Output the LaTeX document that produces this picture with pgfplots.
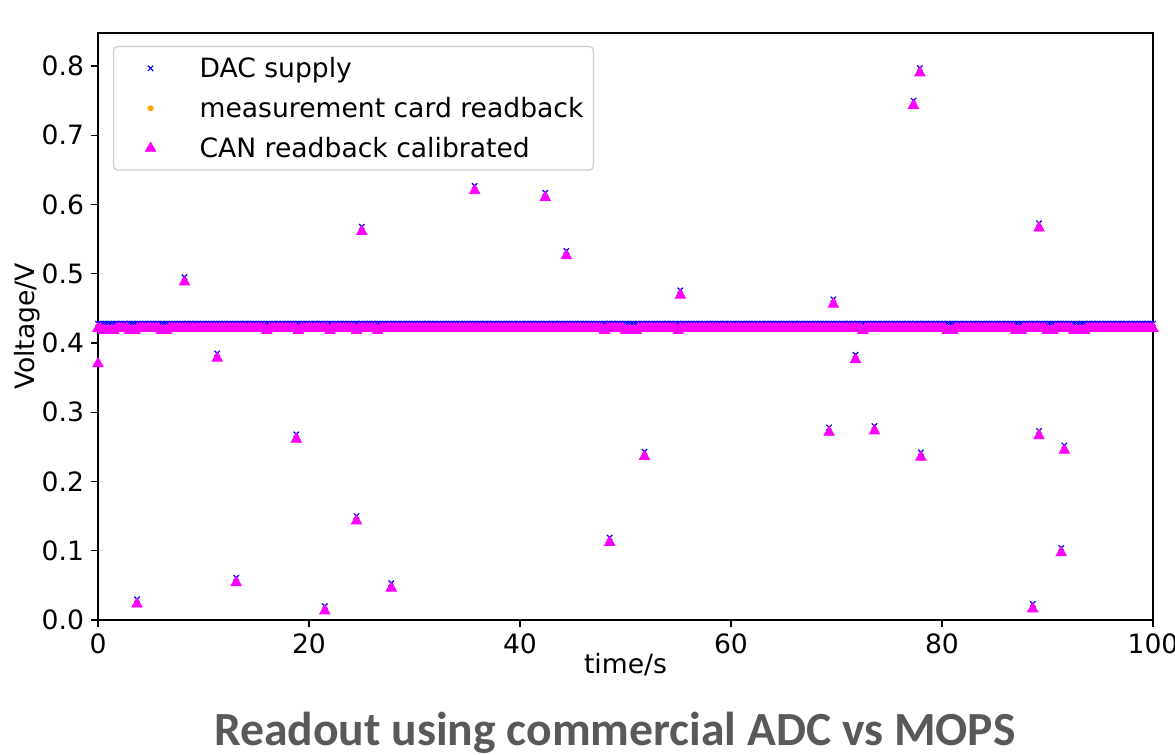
\documentclass[border=0pt]{standalone}
\usepackage{pgfplots}
\pgfplotsset{compat=1.18}
\usepackage{pgfplotstable}
\usepackage{fontspec}
\setmainfont{DejaVu Sans}
\newfontfamily\titlefont{Carlito}
\definecolor{dacblue}{RGB}{0,0,255}
\definecolor{measorange}{HTML}{FFA500}
\definecolor{canmag}{RGB}{255,0,255}
\definecolor{titlegray}{HTML}{595959}
\definecolor{legframe}{HTML}{CCCCCC}

% flat part: DAC at 0.43 V, readbacks just under it
\pgfplotstableread[row sep=\\]{
t dac meas can\\
0 0.428 0.422 0.421\\ 0.25 0.428 0.422 0.421\\ 0.5 0.428 0.422 0.418\\ 0.75 0.428 0.422 0.418\\
1 0.428 0.422 0.418\\ 1.25 0.428 0.422 0.418\\ 1.5 0.428 0.422 0.418\\ 1.75 0.428 0.422 0.421\\
2 0.428 0.422 0.421\\ 2.25 0.428 0.422 0.421\\ 2.5 0.428 0.422 0.421\\ 2.75 0.428 0.422 0.421\\
3 0.428 0.422 0.418\\ 3.25 0.428 0.422 0.418\\ 3.5 0.428 0.422 0.418\\ 3.75 0.428 0.422 0.421\\
4 0.428 0.422 0.421\\ 4.25 0.428 0.422 0.421\\ 4.5 0.428 0.422 0.421\\ 4.75 0.428 0.422 0.421\\
5 0.428 0.422 0.421\\ 5.25 0.428 0.422 0.421\\ 5.5 0.428 0.422 0.421\\ 5.75 0.428 0.422 0.421\\
6 0.428 0.422 0.418\\ 6.25 0.428 0.422 0.418\\ 6.5 0.428 0.422 0.418\\ 6.75 0.428 0.422 0.421\\
7 0.428 0.422 0.421\\ 7.25 0.428 0.422 0.421\\ 7.5 0.428 0.422 0.421\\ 7.75 0.428 0.422 0.421\\
8 0.428 0.422 0.421\\ 8.25 0.428 0.422 0.421\\ 8.5 0.428 0.422 0.421\\ 8.75 0.428 0.422 0.421\\
9 0.428 0.422 0.421\\ 9.25 0.428 0.422 0.421\\ 9.5 0.428 0.422 0.421\\ 9.75 0.428 0.422 0.421\\
10 0.428 0.422 0.421\\ 10.25 0.428 0.422 0.421\\ 10.5 0.428 0.422 0.421\\ 10.75 0.428 0.422 0.421\\
11 0.428 0.422 0.421\\ 11.25 0.428 0.422 0.421\\ 11.5 0.428 0.422 0.421\\ 11.75 0.428 0.422 0.421\\
12 0.428 0.422 0.421\\ 12.25 0.428 0.422 0.421\\ 12.5 0.428 0.422 0.421\\ 12.75 0.428 0.422 0.421\\
13 0.428 0.422 0.421\\ 13.25 0.428 0.422 0.421\\ 13.5 0.428 0.422 0.421\\ 13.75 0.428 0.422 0.421\\
14 0.428 0.422 0.421\\ 14.25 0.428 0.422 0.421\\ 14.5 0.428 0.422 0.421\\ 14.75 0.428 0.422 0.421\\
15 0.428 0.422 0.421\\ 15.25 0.428 0.422 0.421\\ 15.5 0.428 0.422 0.421\\ 15.75 0.428 0.422 0.421\\
16 0.428 0.422 0.418\\ 16.25 0.428 0.422 0.421\\ 16.5 0.428 0.422 0.421\\ 16.75 0.428 0.422 0.421\\
17 0.428 0.422 0.421\\ 17.25 0.428 0.422 0.421\\ 17.5 0.428 0.422 0.421\\ 17.75 0.428 0.422 0.421\\
18 0.428 0.422 0.421\\ 18.25 0.428 0.422 0.421\\ 18.5 0.428 0.422 0.421\\ 18.75 0.428 0.422 0.421\\
19 0.428 0.422 0.418\\ 19.25 0.428 0.422 0.421\\ 19.5 0.428 0.422 0.421\\ 19.75 0.428 0.422 0.421\\
20 0.428 0.422 0.421\\ 20.25 0.428 0.422 0.421\\ 20.5 0.428 0.422 0.421\\ 20.75 0.428 0.422 0.421\\
21 0.428 0.422 0.421\\ 21.25 0.428 0.422 0.421\\ 21.5 0.428 0.422 0.421\\ 21.75 0.428 0.422 0.421\\
22 0.428 0.422 0.418\\ 22.25 0.428 0.422 0.421\\ 22.5 0.428 0.422 0.421\\ 22.75 0.428 0.422 0.421\\
23 0.428 0.422 0.421\\ 23.25 0.428 0.422 0.421\\ 23.5 0.428 0.422 0.421\\ 23.75 0.428 0.422 0.421\\
24 0.428 0.422 0.421\\ 24.25 0.428 0.422 0.421\\ 24.5 0.428 0.422 0.418\\ 24.75 0.428 0.422 0.421\\
25 0.428 0.422 0.421\\ 25.25 0.428 0.422 0.421\\ 25.5 0.428 0.422 0.421\\ 25.75 0.428 0.422 0.421\\
26 0.428 0.422 0.421\\ 26.25 0.428 0.422 0.421\\ 26.5 0.428 0.422 0.418\\ 26.75 0.428 0.422 0.421\\
27 0.428 0.422 0.421\\ 27.25 0.428 0.422 0.421\\ 27.5 0.428 0.422 0.421\\ 27.75 0.428 0.422 0.421\\
28 0.428 0.422 0.421\\ 28.25 0.428 0.422 0.421\\ 28.5 0.428 0.422 0.421\\ 28.75 0.428 0.422 0.421\\
29 0.428 0.422 0.421\\ 29.25 0.428 0.422 0.421\\ 29.5 0.428 0.422 0.421\\ 29.75 0.428 0.422 0.421\\
30 0.428 0.422 0.421\\ 30.25 0.428 0.422 0.421\\ 30.5 0.428 0.422 0.421\\ 30.75 0.428 0.422 0.421\\
31 0.428 0.422 0.421\\ 31.25 0.428 0.422 0.421\\ 31.5 0.428 0.422 0.421\\ 31.75 0.428 0.422 0.421\\
32 0.428 0.422 0.421\\ 32.25 0.428 0.422 0.421\\ 32.5 0.428 0.422 0.421\\ 32.75 0.428 0.422 0.421\\
33 0.428 0.422 0.421\\ 33.25 0.428 0.422 0.421\\ 33.5 0.428 0.422 0.421\\ 33.75 0.428 0.422 0.421\\
34 0.428 0.422 0.421\\ 34.25 0.428 0.422 0.421\\ 34.5 0.428 0.422 0.421\\ 34.75 0.428 0.422 0.421\\
35 0.428 0.422 0.421\\ 35.25 0.428 0.422 0.421\\ 35.5 0.428 0.422 0.421\\ 35.75 0.428 0.422 0.421\\
36 0.428 0.422 0.421\\ 36.25 0.428 0.422 0.421\\ 36.5 0.428 0.422 0.421\\ 36.75 0.428 0.422 0.421\\
37 0.428 0.422 0.421\\ 37.25 0.428 0.422 0.421\\ 37.5 0.428 0.422 0.421\\ 37.75 0.428 0.422 0.421\\
38 0.428 0.422 0.421\\ 38.25 0.428 0.422 0.421\\ 38.5 0.428 0.422 0.421\\ 38.75 0.428 0.422 0.421\\
39 0.428 0.422 0.421\\ 39.25 0.428 0.422 0.421\\ 39.5 0.428 0.422 0.421\\ 39.75 0.428 0.422 0.421\\
40 0.428 0.422 0.421\\ 40.25 0.428 0.422 0.421\\ 40.5 0.428 0.422 0.421\\ 40.75 0.428 0.422 0.421\\
41 0.428 0.422 0.421\\ 41.25 0.428 0.422 0.421\\ 41.5 0.428 0.422 0.421\\ 41.75 0.428 0.422 0.421\\
42 0.428 0.422 0.421\\ 42.25 0.428 0.422 0.421\\ 42.5 0.428 0.422 0.421\\ 42.75 0.428 0.422 0.421\\
43 0.428 0.422 0.421\\ 43.25 0.428 0.422 0.421\\ 43.5 0.428 0.422 0.421\\ 43.75 0.428 0.422 0.421\\
44 0.428 0.422 0.421\\ 44.25 0.428 0.422 0.421\\ 44.5 0.428 0.422 0.421\\ 44.75 0.428 0.422 0.421\\
45 0.428 0.422 0.421\\ 45.25 0.428 0.422 0.421\\ 45.5 0.428 0.422 0.421\\ 45.75 0.428 0.422 0.421\\
46 0.428 0.422 0.421\\ 46.25 0.428 0.422 0.421\\ 46.5 0.428 0.422 0.421\\ 46.75 0.428 0.422 0.421\\
47 0.428 0.422 0.421\\ 47.25 0.428 0.422 0.421\\ 47.5 0.428 0.422 0.421\\ 47.75 0.428 0.422 0.421\\
48 0.428 0.422 0.418\\ 48.25 0.428 0.422 0.421\\ 48.5 0.428 0.422 0.421\\ 48.75 0.428 0.422 0.421\\
49 0.428 0.422 0.421\\ 49.25 0.428 0.422 0.421\\ 49.5 0.428 0.422 0.421\\ 49.75 0.428 0.422 0.421\\
50 0.428 0.422 0.418\\ 50.25 0.428 0.422 0.418\\ 50.5 0.428 0.422 0.418\\ 50.75 0.428 0.422 0.418\\
51 0.428 0.422 0.418\\ 51.25 0.428 0.422 0.421\\ 51.5 0.428 0.422 0.421\\ 51.75 0.428 0.422 0.421\\
52 0.428 0.422 0.421\\ 52.25 0.428 0.422 0.421\\ 52.5 0.428 0.422 0.421\\ 52.75 0.428 0.422 0.421\\
53 0.428 0.422 0.421\\ 53.25 0.428 0.422 0.421\\ 53.5 0.428 0.422 0.421\\ 53.75 0.428 0.422 0.421\\
54 0.428 0.422 0.421\\ 54.25 0.428 0.422 0.421\\ 54.5 0.428 0.422 0.421\\ 54.75 0.428 0.422 0.421\\
55 0.428 0.422 0.418\\ 55.25 0.428 0.422 0.421\\ 55.5 0.428 0.422 0.421\\ 55.75 0.428 0.422 0.421\\
56 0.428 0.422 0.421\\ 56.25 0.428 0.422 0.421\\ 56.5 0.428 0.422 0.421\\ 56.75 0.428 0.422 0.421\\
57 0.428 0.422 0.421\\ 57.25 0.428 0.422 0.421\\ 57.5 0.428 0.422 0.421\\ 57.75 0.428 0.422 0.421\\
58 0.428 0.422 0.421\\ 58.25 0.428 0.422 0.421\\ 58.5 0.428 0.422 0.421\\ 58.75 0.428 0.422 0.421\\
59 0.428 0.422 0.421\\ 59.25 0.428 0.422 0.421\\ 59.5 0.428 0.422 0.421\\ 59.75 0.428 0.422 0.421\\
60 0.428 0.422 0.421\\ 60.25 0.428 0.422 0.421\\ 60.5 0.428 0.422 0.421\\ 60.75 0.428 0.422 0.421\\
61 0.428 0.422 0.421\\ 61.25 0.428 0.422 0.421\\ 61.5 0.428 0.422 0.421\\ 61.75 0.428 0.422 0.421\\
62 0.428 0.422 0.421\\ 62.25 0.428 0.422 0.421\\ 62.5 0.428 0.422 0.421\\ 62.75 0.428 0.422 0.421\\
63 0.428 0.422 0.421\\ 63.25 0.428 0.422 0.421\\ 63.5 0.428 0.422 0.421\\ 63.75 0.428 0.422 0.421\\
64 0.428 0.422 0.421\\ 64.25 0.428 0.422 0.421\\ 64.5 0.428 0.422 0.421\\ 64.75 0.428 0.422 0.421\\
65 0.428 0.422 0.421\\ 65.25 0.428 0.422 0.421\\ 65.5 0.428 0.422 0.421\\ 65.75 0.428 0.422 0.421\\
66 0.428 0.422 0.421\\ 66.25 0.428 0.422 0.421\\ 66.5 0.428 0.422 0.421\\ 66.75 0.428 0.422 0.421\\
67 0.428 0.422 0.421\\ 67.25 0.428 0.422 0.421\\ 67.5 0.428 0.422 0.421\\ 67.75 0.428 0.422 0.421\\
68 0.428 0.422 0.421\\ 68.25 0.428 0.422 0.421\\ 68.5 0.428 0.422 0.421\\ 68.75 0.428 0.422 0.421\\
69 0.428 0.422 0.421\\ 69.25 0.428 0.422 0.421\\ 69.5 0.428 0.422 0.421\\ 69.75 0.428 0.422 0.421\\
70 0.428 0.422 0.421\\ 70.25 0.428 0.422 0.421\\ 70.5 0.428 0.422 0.421\\ 70.75 0.428 0.422 0.421\\
71 0.428 0.422 0.421\\ 71.25 0.428 0.422 0.421\\ 71.5 0.428 0.422 0.421\\ 71.75 0.428 0.422 0.421\\
72 0.428 0.422 0.421\\ 72.25 0.428 0.422 0.421\\ 72.5 0.428 0.422 0.418\\ 72.75 0.428 0.422 0.421\\
73 0.428 0.422 0.421\\ 73.25 0.428 0.422 0.421\\ 73.5 0.428 0.422 0.421\\ 73.75 0.428 0.422 0.421\\
74 0.428 0.422 0.421\\ 74.25 0.428 0.422 0.421\\ 74.5 0.428 0.422 0.421\\ 74.75 0.428 0.422 0.421\\
75 0.428 0.422 0.421\\ 75.25 0.428 0.422 0.421\\ 75.5 0.428 0.422 0.421\\ 75.75 0.428 0.422 0.421\\
76 0.428 0.422 0.421\\ 76.25 0.428 0.422 0.421\\ 76.5 0.428 0.422 0.421\\ 76.75 0.428 0.422 0.421\\
77 0.428 0.422 0.421\\ 77.25 0.428 0.422 0.421\\ 77.5 0.428 0.422 0.421\\ 77.75 0.428 0.422 0.421\\
78 0.428 0.422 0.421\\ 78.25 0.428 0.422 0.421\\ 78.5 0.428 0.422 0.421\\ 78.75 0.428 0.422 0.421\\
79 0.428 0.422 0.421\\ 79.25 0.428 0.422 0.421\\ 79.5 0.428 0.422 0.421\\ 79.75 0.428 0.422 0.421\\
80 0.428 0.422 0.421\\ 80.25 0.428 0.422 0.421\\ 80.5 0.428 0.422 0.418\\ 80.75 0.428 0.422 0.418\\
81 0.428 0.422 0.418\\ 81.25 0.428 0.422 0.421\\ 81.5 0.428 0.422 0.421\\ 81.75 0.428 0.422 0.421\\
82 0.428 0.422 0.421\\ 82.25 0.428 0.422 0.421\\ 82.5 0.428 0.422 0.421\\ 82.75 0.428 0.422 0.421\\
83 0.428 0.422 0.421\\ 83.25 0.428 0.422 0.421\\ 83.5 0.428 0.422 0.421\\ 83.75 0.428 0.422 0.421\\
84 0.428 0.422 0.421\\ 84.25 0.428 0.422 0.421\\ 84.5 0.428 0.422 0.421\\ 84.75 0.428 0.422 0.421\\
85 0.428 0.422 0.421\\ 85.25 0.428 0.422 0.421\\ 85.5 0.428 0.422 0.421\\ 85.75 0.428 0.422 0.421\\
86 0.428 0.422 0.421\\ 86.25 0.428 0.422 0.421\\ 86.5 0.428 0.422 0.421\\ 86.75 0.428 0.422 0.421\\
87 0.428 0.422 0.418\\ 87.25 0.428 0.422 0.418\\ 87.5 0.428 0.422 0.418\\ 87.75 0.428 0.422 0.421\\
88 0.428 0.422 0.421\\ 88.25 0.428 0.422 0.421\\ 88.5 0.428 0.422 0.421\\ 88.75 0.428 0.422 0.421\\
89 0.428 0.422 0.421\\ 89.25 0.428 0.422 0.421\\ 89.5 0.428 0.422 0.421\\ 89.75 0.428 0.422 0.421\\
90 0.428 0.422 0.418\\ 90.25 0.428 0.422 0.418\\ 90.5 0.428 0.422 0.418\\ 90.75 0.428 0.422 0.421\\
91 0.428 0.422 0.421\\ 91.25 0.428 0.422 0.421\\ 91.5 0.428 0.422 0.421\\ 91.75 0.428 0.422 0.421\\
92 0.428 0.422 0.421\\ 92.25 0.428 0.422 0.421\\ 92.5 0.428 0.422 0.418\\ 92.75 0.428 0.422 0.418\\
93 0.428 0.422 0.418\\ 93.25 0.428 0.422 0.418\\ 93.5 0.428 0.422 0.418\\ 93.75 0.428 0.422 0.421\\
94 0.428 0.422 0.421\\ 94.25 0.428 0.422 0.421\\ 94.5 0.428 0.422 0.421\\ 94.75 0.428 0.422 0.421\\
95 0.428 0.422 0.421\\ 95.25 0.428 0.422 0.421\\ 95.5 0.428 0.422 0.421\\ 95.75 0.428 0.422 0.421\\
96 0.428 0.422 0.421\\ 96.25 0.428 0.422 0.421\\ 96.5 0.428 0.422 0.421\\ 96.75 0.428 0.422 0.421\\
97 0.428 0.422 0.421\\ 97.25 0.428 0.422 0.421\\ 97.5 0.428 0.422 0.421\\ 97.75 0.428 0.422 0.421\\
98 0.428 0.422 0.421\\ 98.25 0.428 0.422 0.421\\ 98.5 0.428 0.422 0.421\\ 98.75 0.428 0.422 0.421\\
99 0.428 0.422 0.421\\ 99.25 0.428 0.422 0.421\\ 99.5 0.428 0.422 0.421\\ 99.75 0.428 0.422 0.421\\
100 0.428 0.422 0.421\\
}\band

% set points away from the flat level
\pgfplotstableread[row sep=\\]{
t dac meas can\\
0 nan 0.372 0.370\\
3.7 0.030 0.025 0.023\\
8.2 0.495 0.490 0.488\\
11.3 0.385 0.380 0.378\\
13.1 0.061 0.056 0.054\\
18.8 0.268 0.263 0.261\\
21.5 0.020 0.015 0.013\\
24.5 0.150 0.145 0.143\\
25.0 0.568 0.563 0.561\\
27.8 0.053 0.048 0.046\\
35.7 0.627 0.622 0.620\\
42.4 0.617 0.612 0.610\\
44.4 0.533 0.528 0.526\\
48.5 0.119 0.114 0.112\\
51.8 0.243 0.238 0.236\\
55.2 0.476 0.471 0.469\\
69.3 0.278 0.273 0.271\\
69.7 0.463 0.458 0.456\\
71.8 0.383 0.378 0.376\\
73.6 0.280 0.275 0.273\\
77.3 0.750 0.745 0.743\\
77.9 0.797 0.792 0.790\\
78.0 0.242 0.237 0.235\\
88.6 0.023 0.018 0.016\\
89.2 0.573 0.568 0.566\\
89.2 0.273 0.268 0.266\\
91.3 0.104 0.099 0.097\\
91.6 0.252 0.247 0.245\\
}\steps

\begin{document}
\begin{tikzpicture}
\begin{axis}[
    scale only axis,
    width=527.5pt, height=293.5pt,
    xmin=0, xmax=100, ymin=0, ymax=0.8477,
    xtick={0,20,40,60,80,100},
    ytick={0,0.1,0.2,0.3,0.4,0.5,0.6,0.7,0.8},
    yticklabel style={/pgf/number format/.cd, fixed, fixed zerofill, precision=1},
    /pgf/number format/assume math mode=true,
    tick pos=left, tick align=outside, major tick length=3.5pt,
    tick style={black, line width=0.6pt},
    axis line style={black, line width=0.8pt},
    every tick label/.append style={font=\fontsize{13.3}{16}\selectfont},
    label style={font=\fontsize{13.3}{16}\selectfont},
    xlabel={time/s}, ylabel={Voltage/V},
    xlabel style={at={(axis description cs:0.5,-0.092)}, anchor=base},
    ylabel style={at={(axis description cs:-0.0673,0.5)}, anchor=center},
    legend cell align=left,
    legend image code/.code={\path[draw=none, fill=none] (-13.5pt,0pt) -- (10pt,0pt); \draw[#1, only marks] plot coordinates {(0pt,0pt)};},
    legend style={at={(0.01422,0.97785)}, anchor=north west, draw=legframe,
        rounded corners=2pt, line width=0.6pt, inner xsep=5pt, inner ysep=6pt,
        font=\fontsize{13.3}{16}\selectfont, row sep=10.3pt,
        nodes={inner sep=0pt, text height=9.7pt, text depth=0pt},
        /tikz/every odd column/.append style={column sep=14.5pt}},
]
\addplot[only marks, mark=x, mark size=1.9pt, color=dacblue, line width=0.6pt, forget plot] table[x=t, y=dac] {\band};
\addplot[only marks, mark=x, mark size=1.9pt, color=dacblue, line width=0.6pt] table[x=t, y=dac] {\steps};
\addplot[only marks, mark=*, mark size=1.2pt, color=measorange, forget plot] table[x=t, y=meas] {\band};
\addplot[only marks, mark=*, mark size=1.2pt, color=measorange] table[x=t, y=meas] {\steps};
\addplot[only marks, mark=triangle*, mark size=3pt, color=canmag, line width=0.4pt, forget plot] table[x=t, y=can] {\band};
\addplot[only marks, mark=triangle*, mark size=3pt, color=canmag, line width=0.4pt] table[x=t, y=can] {\steps};
\legend{DAC supply, measurement card readback, CAN readback calibrated}
\end{axis}
\node[font=\titlefont\bfseries\fontsize{23.8}{28}\selectfont, text=titlegray, anchor=base] at (258.5pt,-63pt) {Readout using commercial ADC vs MOPS};
\pgfresetboundingbox
\useasboundingbox (-49pt,-67.5pt) rectangle (538.5pt,310pt);
\end{tikzpicture}
\end{document}
